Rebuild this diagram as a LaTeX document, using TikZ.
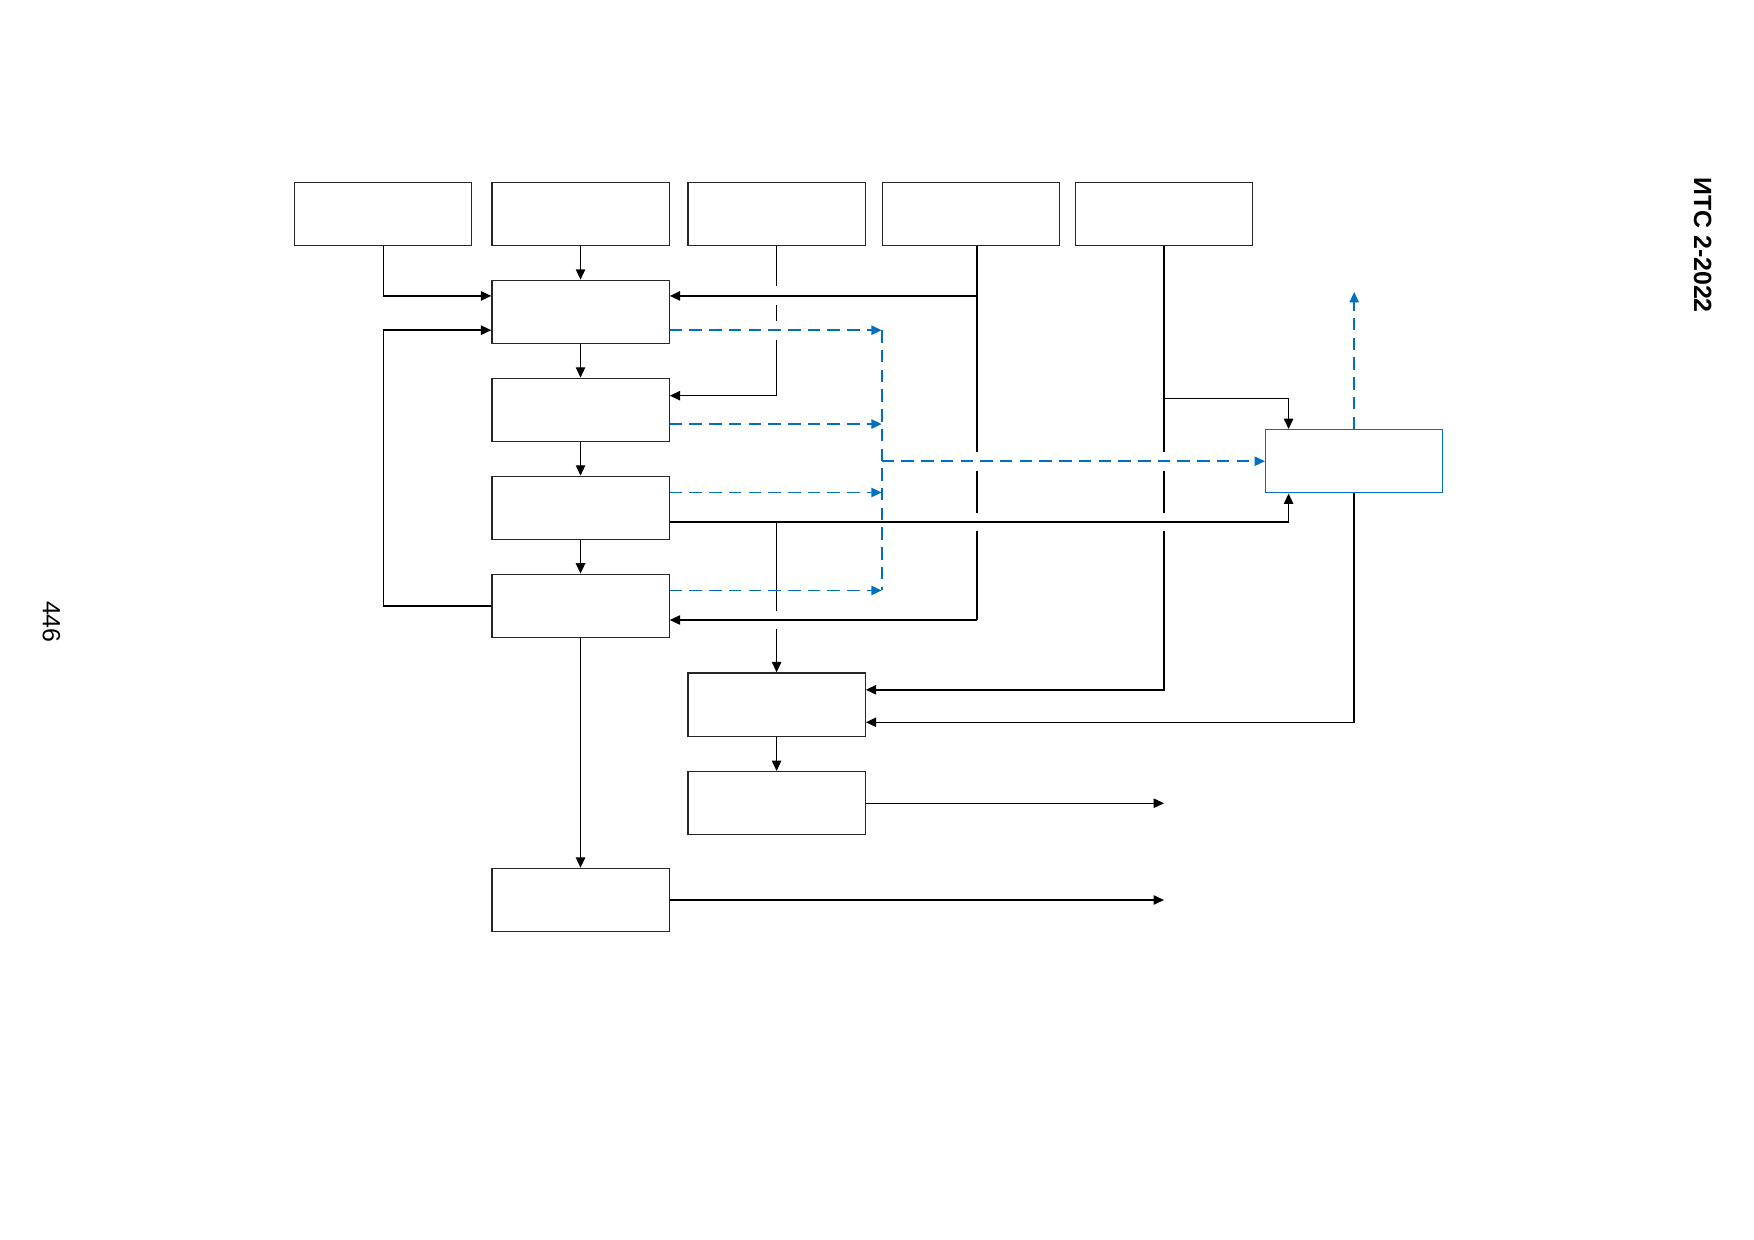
\documentclass[tikz,border=0pt]{standalone}
\usepackage{fontspec}
\setmainfont{Liberation Sans}
\usetikzlibrary{arrows.meta, positioning, calc}
\definecolor{gostblue}{RGB}{0,112,192}

\begin{document}
\begin{tikzpicture}[
    blk/.style={draw=black!85, line width=0.6pt, minimum width=3cm, minimum height=1.07cm, inner sep=0pt},
    blkblue/.style={draw=gostblue, line width=0.6pt, minimum width=3cm, minimum height=1.07cm, inner sep=0pt},
    arr/.style={-{Triangle[length=5pt, width=4.5pt]}, line width=0.7pt},
    wire/.style={line width=0.7pt},
    sig/.style={gostblue, line width=0.8pt, dash pattern=on 6pt off 3.5pt, -{Triangle[length=5pt, width=4.5pt]}},
    sigline/.style={gostblue, line width=0.8pt, dash pattern=on 6pt off 3.5pt},
    gap/.style={draw=white, line width=3.5pt},
    pagetext/.style={rotate=-90, font=\fontsize{12}{14}\selectfont}]

    \useasboundingbox (0,0) rectangle (29.7,-20.996);

    % top row
    \node[blk] (A) at (6.49,-3.62) {};
    \node[blk] (B) at (9.83,-3.62) {};
    \node[blk] (C) at (13.15,-3.62) {};
    \node[blk] (D) at (16.44,-3.62) {};
    \node[blk] (E) at (19.71,-3.62) {};

    % main column
    \node[blk, below=0.57cm of B] (R1) {};
    \node[blk, below=0.568cm of R1] (R2) {};
    \node[blk, below=0.568cm of R2] (R3) {};
    \node[blk, below=0.568cm of R3] (R4) {};
    \node[blk, below=3.89cm of R4] (R5) {};

    % second column
    \node[blk] (S1) at (13.15,-11.93) {};
    \node[blk, below=0.58cm of S1] (S2) {};

    % blue block
    \node[blkblue] (U) at (22.93,-7.81) {};

    % page texts
    \node[pagetext, font=\fontsize{12}{14}\selectfont\bfseries] (hdr) at (28.83,-4.15) {ИТС 2-2022};
    \node[pagetext] (pgnum) at (0.87,-10.53) {446};

    % ports
    \coordinate (R1a) at ($(R1.west)+(0,0.27)$);
    \coordinate (R1b) at ($(R1.west)+(0,-0.31)$);
    \coordinate (R1c) at ($(R1.east)+(0,0.27)$);
    \coordinate (R1d) at ($(R1.east)+(0,-0.31)$);
    \coordinate (R2a) at ($(R2.east)+(0,0.24)$);
    \coordinate (R2b) at ($(R2.east)+(0,-0.24)$);
    \coordinate (R3a) at ($(R3.east)+(0,0.26)$);
    \coordinate (R3b) at ($(R3.east)+(0,-0.24)$);
    \coordinate (R4a) at ($(R4.east)+(0,0.26)$);
    \coordinate (R4b) at ($(R4.east)+(0,-0.24)$);
    \coordinate (S1a) at ($(S1.east)+(0,0.25)$);
    \coordinate (S1b) at ($(S1.east)+(0,-0.30)$);
    \coordinate (d0) at ($(D.south)+(0.1,0)$);
    \coordinate (Ua) at ($(U.north west)+(0.4,0)$);
    \coordinate (Ub) at ($(U.south west)+(0.4,0)$);
    \coordinate (e1) at ($(E.south |- U.north)+(0,0.52)$);
    \coordinate (Uout) at ($(U.north)+(0,2.32)$);

    % lines that are broken at crossings
    \draw[arr] (C.south) |- (R2a);
    \draw[arr] (C.south |- R3b) -- (S1.north);
    \draw[wire] (d0) -- (d0 |- R4b);
    \draw[arr] (E.south) |- (S1a);

    % breaks
    \coordinate (cr1) at (C.south |- R1c);
    \coordinate (cr2) at (C.south |- R1d);
    \coordinate (cr3) at (C.south |- R4b);
    \coordinate (cr4) at (d0 |- U.west);
    \coordinate (cr5) at (d0 |- R3b);
    \coordinate (cr6) at (E.south |- U.west);
    \coordinate (cr7) at (E.south |- R3b);
    \foreach \p in {cr1,cr2,cr3,cr4,cr5,cr6,cr7}
        \draw[gap] ($(\p)+(0,0.16)$) -- ($(\p)+(0,-0.16)$);

    % black connectors
    \draw[arr] (A.south) |- (R1a);
    \draw[arr] (B.south) -- (R1.north);
    \draw[arr] (R1.south) -- (R2.north);
    \draw[arr] (R2.south) -- (R3.north);
    \draw[arr] (R3.south) -- (R4.north);
    \draw[arr] (R4.south) -- (R5.north);
    \draw[arr] (R4.west) -- (R4.west -| A.south) |- (R1b);
    \draw[arr] (d0 |- R1c) -- (R1c);
    \draw[arr] (d0 |- R4b) -- (R4b);
    \draw[arr] (R3b) -| (Ub);
    \draw[arr] (e1) -| (Ua);
    \draw[arr] (U.south) |- (S1b);
    \draw[arr] (S1.south) -- (S2.north);
    \draw[arr] (S2.east) -- (S2.east -| E.south);
    \draw[arr] (R5.east) -- (R5.east -| E.south);

    % blue signals
    \draw[sig] (R1d) -- (R1d -| D.west);
    \draw[sig] (R2b) -- (R2b -| D.west);
    \draw[sig] (R3a) -- (R3a -| D.west);
    \draw[sig] (R4a) -- (R4a -| D.west);
    \draw[sigline] (R1d -| D.west) -- (R4a -| D.west);
    \draw[sig] (D.west |- U.west) -- (U.west);
    \draw[sig] (U.north) -- (Uout);
\end{tikzpicture}
\end{document}
